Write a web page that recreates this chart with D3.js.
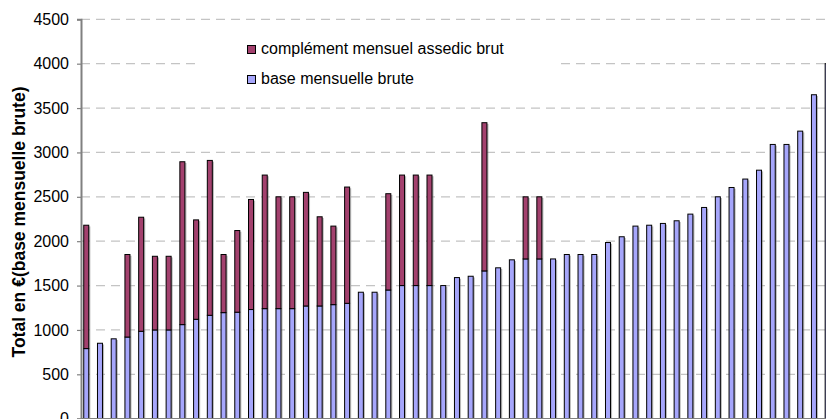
<!DOCTYPE html>
<html><head><meta charset="utf-8">
<script src="https://cdn.jsdelivr.net/npm/d3@7/dist/d3.min.js"></script>
<style>
html,body{margin:0;padding:0;background:#fff;}
svg{display:block;font-family:"Liberation Sans",Arial,sans-serif;}
</style></head>
<body>
<svg id="chart" width="826" height="419"></svg>
<script>
const categories = ["1","2","3","4","5","6","7","8","9","10","11","12","13","14","15","16","17","18","19","20","21","22","23","24","25","26","27","28","29","30","31","32","33","34","35","36","37","38","39","40","41","42","43","44","45","46","47","48","49","50","51","52","53","54","55"];
const baseMensuelle = [790,850,900,920,985,1000,1000,1060,1120,1165,1195,1200,1230,1240,1240,1240,1270,1270,1285,1300,1425,1425,1450,1500,1500,1500,1500,1590,1605,1665,1700,1790,1800,1800,1800,1850,1850,1850,1985,2050,2170,2180,2200,2230,2305,2380,2500,2605,2700,2800,3090,3090,3240,3650,4000];
const complementAssedic = [1390,0,0,930,1285,830,830,1835,1120,1745,655,920,1240,1505,1260,1260,1280,1005,885,1310,0,0,1085,1245,1245,1245,0,0,0,1670,0,0,700,700,0,0,0,0,0,0,0,0,0,0,0,0,0,0,0,0,0,0,0,0,0];
const seriesNames = ["base mensuelle brute","complément mensuel assedic brut"];
const seriesColors = ["#a6a6fb","#a3416e"];
const yTicks = [0,500,1000,1500,2000,2500,3000,3500,4000,4500];
const yTitle = "Total en €(base mensuelle brute)";

const svg = d3.select("#chart");
const W = 826, H = 419;
const left = 81, step = 13.73;
const n = categories.length;
const pInner = 1 - 5/step, pOuter = 0.2;
const x = d3.scaleBand().domain(categories)
  .range([left, left + step*(n - pInner + 2*pOuter)])
  .paddingInner(pInner).paddingOuter(pOuter);
const y = d3.scaleLinear().domain([0,4500]).range([418.7, 19.3]);

// gridlines
svg.append("g").selectAll("line").data(yTicks.filter(d=>d>0)).join("line")
  .attr("x1", left).attr("x2", W)
  .attr("y1", d=>y(d)).attr("y2", d=>y(d))
  .attr("stroke", "#c4c4c4").attr("stroke-width", 1.3)
  .attr("stroke-dasharray", "9,6");

// legend box background (hides grid)
svg.append("rect").attr("x",198).attr("y",30).attr("width",358).attr("height",68).attr("fill","#fff");

const rows = categories.map((c,i)=>({cat:c, base:baseMensuelle[i], comp:complementAssedic[i]}));
const stack = d3.stack().keys(["base","comp"])(rows);

// shadows
svg.append("g").selectAll("rect").data(rows).join("rect")
  .attr("x", d=>x(d.cat)+1.6)
  .attr("y", d=>y(d.base+d.comp)+1.2)
  .attr("width", x.bandwidth())
  .attr("height", d=>y(0)-y(d.base+d.comp))
  .attr("fill", "#808080").attr("opacity", 0.55);

svg.append("g").selectAll("g").data(stack).join("g")
  .attr("fill", (s,i)=>seriesColors[i])
  .selectAll("rect").data(s=>s.filter(d=>d[1]-d[0]>0)).join("rect")
  .attr("x", d=>x(d.data.cat))
  .attr("y", d=>y(d[1]))
  .attr("width", x.bandwidth())
  .attr("height", d=>y(d[0])-y(d[1]))
  .attr("stroke", "#000").attr("stroke-width", 1);

// y axis
const ax = svg.append("g").attr("transform", `translate(${left},0)`)
  .call(d3.axisLeft(y).tickValues(yTicks).tickSize(4).tickPadding(8).tickFormat(d3.format("d")));
ax.select(".domain").attr("stroke","#808080").attr("stroke-width",2);
ax.selectAll(".tick line").attr("stroke","#808080").attr("stroke-width",1.2);
ax.selectAll(".tick text").attr("font-size", "16px").attr("fill","#000")
  .attr("font-family", '"Liberation Sans",Arial,sans-serif');

// x axis baseline
svg.append("line").attr("x1", left).attr("x2", W).attr("y1", y(0)).attr("y2", y(0))
  .attr("stroke","#808080").attr("stroke-width",1.5);

// y title
svg.append("text").attr("transform", "translate(25,222) rotate(-90)")
  .attr("text-anchor","middle").attr("font-size","17.5px").attr("font-weight","bold")
  .text(yTitle);

// legend
const legendItems = [{name:seriesNames[1], color:seriesColors[1]},{name:seriesNames[0], color:seriesColors[0]}];
const lg = svg.append("g").selectAll("g").data(legendItems).join("g")
  .attr("transform", (d,i)=>`translate(247,${54 + i*30})`);
lg.append("rect").attr("x",0.5).attr("y",-8.5).attr("width",8).attr("height",8)
  .attr("fill", d=>d.color).attr("stroke","#000").attr("stroke-width",1);
lg.append("text").attr("x",14).attr("y",0).attr("font-size","16px").text(d=>d.name);
</script>
</body></html>
